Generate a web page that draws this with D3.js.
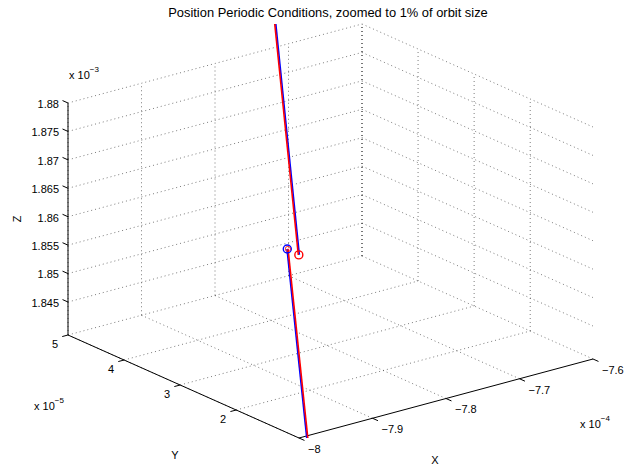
<!DOCTYPE html>
<html><head><meta charset="utf-8">
<script src="https://cdn.jsdelivr.net/npm/d3@7"></script>
<style>body{margin:0;background:#fff}svg{display:block;font-family:"Liberation Sans",Arial,Helvetica,sans-serif}</style>
</head><body>
<svg id="c" width="634" height="470"></svg>
<script>
// ---- data (X in 1e-4, Y in 1e-5, Z in 1e-3) ----
const titleText = "Position Periodic Conditions, zoomed to 1% of orbit size";
const xLim = [-8.0, -7.6];
const yLim = [0.88, 5.0];
const zLim = [1.8392, 1.8800];
const xTicks = [-8, -7.9, -7.8, -7.7, -7.6];
const yTicks = [2, 3, 4, 5];
const zTicks = [1.845, 1.85, 1.855, 1.86, 1.865, 1.87, 1.875, 1.88];
const xTickLabels = ["\u22128", "\u22127.9", "\u22127.8", "\u22127.7", "\u22127.6"];
const yTickLabels = ["2", "3", "4", "5"];
const zTickLabels = ["1.845", "1.85", "1.855", "1.86", "1.865", "1.87", "1.875", "1.88"];
// blue trajectory: departure piece and arrival piece
const blueDepart = [[-7.9959, 1.148, 1.87111], [-7.9891, 0.88, 1.83838]];
const blueArrive = [[-7.9923, 1.457, 1.91525], [-7.9807, 1.127, 1.86967]];
// red trajectory
const redDepart = [[-7.9945, 1.148, 1.87111], [-7.9877, 0.88, 1.83838]];
const redArrive = [[-7.9937, 1.457, 1.91525], [-7.9821, 1.127, 1.86967]];
const startPoint = [-7.9955, 1.148, 1.87111];
const endPoint = [-7.9814, 1.127, 1.86967];

// ---- projection built from linear scales ----
const ox = 299, oy = 438;
const xToPx = d3.scaleLinear().domain(xLim).range([0, 294]);
const xToPy = d3.scaleLinear().domain(xLim).range([0, -79]);
const yToPx = d3.scaleLinear().domain(yLim).range([0, -231]);
const yToPy = d3.scaleLinear().domain(yLim).range([0, -103]);
const zToPy = d3.scaleLinear().domain(zLim).range([0, -232]);
function P(x, y, z) { return [ox + xToPx(x) + yToPx(y), oy + xToPy(x) + yToPy(y) + zToPy(z)]; }

const svg = d3.select("#c");
const line = d3.line();
const gridG = svg.append("g").attr("fill", "none").attr("stroke", "#444")
  .attr("stroke-width", 0.7).attr("stroke-dasharray", "1,3");
function seg(g, a, b) { g.append("path").attr("d", line([a, b])); }
const [x0, x1] = xLim, [y0, y1] = yLim, [z0, z1] = zLim;
// back wall Y = ymax
zTicks.forEach(z => seg(gridG, P(x0, y1, z), P(x1, y1, z)));
xTicks.forEach(x => seg(gridG, P(x, y1, z0), P(x, y1, z1)));
// back wall X = xmax
zTicks.forEach(z => seg(gridG, P(x1, y1, z), P(x1, y0, z)));
yTicks.forEach(y => seg(gridG, P(x1, y, z0), P(x1, y, z1)));
seg(gridG, P(x1, y1, z0), P(x1, y1, z1));
// floor
xTicks.forEach(x => seg(gridG, P(x, y0, z0), P(x, y1, z0)));
yTicks.forEach(y => seg(gridG, P(x0, y, z0), P(x1, y, z0)));

// axes
const axG = svg.append("g").attr("stroke", "#000").attr("stroke-width", 1).attr("fill", "none");
seg(axG, P(x0, y1, z0), P(x0, y1, z1));
seg(axG, P(x0, y1, z0), P(x0, y0, z0));
seg(axG, P(x0, y0, z0), P(x1, y0, z0));
const tl = 6;
const vdir = [-231, -103], vn = Math.hypot(...vdir);
const udir = [-294, 79], un = Math.hypot(...udir);
const txtG = svg.append("g").attr("font-size", 11).attr("fill", "#000");
zTicks.forEach((z, i) => {
  const p = P(x0, y1, z);
  seg(axG, p, [p[0] + vdir[0] / vn * tl, p[1] + vdir[1] / vn * tl]);
  txtG.append("text").attr("x", 59).attr("y", p[1] + 2).attr("text-anchor", "end")
    .attr("dominant-baseline", "middle").text(zTickLabels[i]);
});
yTicks.forEach((y, i) => {
  const p = P(x0, y, z0);
  seg(axG, p, [p[0] + udir[0] / un * tl, p[1] + udir[1] / un * tl]);
  txtG.append("text").attr("x", p[0] - 10).attr("y", p[1] + 10).attr("text-anchor", "end")
    .attr("dominant-baseline", "middle").text(yTickLabels[i]);
});
xTicks.forEach((x, i) => {
  const p = P(x, y0, z0);
  seg(axG, p, [p[0] - vdir[0] / vn * tl, p[1] - vdir[1] / vn * tl]);
  txtG.append("text").attr("x", p[0] + 9).attr("y", p[1] + 12).attr("text-anchor", "start")
    .attr("dominant-baseline", "middle").text(xTickLabels[i]);
});

// exponents
function expo(x, y, e) {
  const t = txtG.append("text").attr("x", x).attr("y", y);
  t.append("tspan").text("x 10");
  t.append("tspan").attr("dy", -7).attr("font-size", 8).text(e);
}
expo(69, 79, "\u22123");
expo(34, 410, "\u22125");
expo(580, 428, "\u22124");

// axis labels & title
txtG.append("text").attr("transform", "translate(21,219) rotate(-90)").attr("text-anchor", "middle").text("Z");
txtG.append("text").attr("x", 175).attr("y", 459).attr("text-anchor", "middle").text("Y");
txtG.append("text").attr("x", 435).attr("y", 464).attr("text-anchor", "middle").text("X");
txtG.append("text").attr("x", 328).attr("y", 17).attr("text-anchor", "middle").attr("font-size", 12.9).text(titleText);

// trajectories (clipped to axes rectangle)
svg.append("clipPath").attr("id", "clip").append("rect").attr("x", 60).attr("y", 24).attr("width", 540).attr("height", 414);
const trG = svg.append("g").attr("clip-path", "url(#clip)").attr("fill", "none").attr("stroke-width", 1.6);
[blueDepart, blueArrive].forEach(d => trG.append("path").attr("stroke", "#0000ff").attr("d", line(d.map(p => P(...p)))));
[redDepart, redArrive].forEach(d => trG.append("path").attr("stroke", "#ff0000").attr("d", line(d.map(p => P(...p)))));
const s = P(...startPoint), e = P(...endPoint);
svg.append("circle").attr("cx", s[0]).attr("cy", s[1]).attr("r", 4).attr("fill", "none").attr("stroke", "#0000ff").attr("stroke-width", 1.4);
svg.append("circle").attr("cx", s[0] + 0.6).attr("cy", s[1]).attr("r", 2.6).attr("fill", "none").attr("stroke", "#ff0000").attr("stroke-width", 0.8);
svg.append("circle").attr("cx", e[0]).attr("cy", e[1]).attr("r", 4).attr("fill", "none").attr("stroke", "#ff0000").attr("stroke-width", 1.4);
</script>
</body></html>
